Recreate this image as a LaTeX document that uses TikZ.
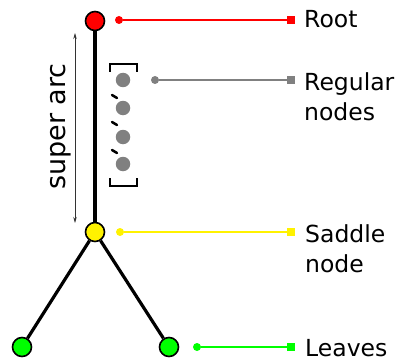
\documentclass[tikz,border=0pt]{standalone}
\usepackage{fontspec}
\setmainfont{DejaVu Sans}
\usetikzlibrary{arrows.meta}
\begin{document}
\begin{tikzpicture}[x=1pt,y=-1pt,
  treenode/.style={circle,draw=black,line width=1.6pt,minimum size=19pt,inner sep=0pt},
  edge/.style={line width=3.2pt},
  legend/.style={line width=2pt},
  ldot/.style={circle,inner sep=0pt,minimum size=8pt},
  lsq/.style={rectangle,inner sep=0pt,minimum size=8pt},
  regnode/.style={circle,fill=gray,inner sep=0pt,minimum size=14.5pt},
  bracket/.style={line width=2.5pt},
  tick/.style={line width=2.5pt,line cap=round},
  lab/.style={font=\fontsize{23.5}{30}\selectfont,inner sep=0pt,align=left}]
\useasboundingbox (0,0) rectangle (399,361);
% tree
\node[treenode,fill=red] (root) at (95,21) {};
\node[treenode,fill=yellow] (saddle) at (95,232) {};
\node[treenode,fill=green] (leafL) at (22,347) {};
\node[treenode,fill=green] (leafR) at (169,347) {};
\draw[edge] (root) -- (saddle);
\draw[edge] (saddle) -- (leafL);
\draw[edge] (saddle) -- (leafR);
% regular nodes
\node[regnode] (r1) at (123,80) {};
\node[regnode] (r2) at (123,108) {};
\node[regnode] (r3) at (123,137) {};
\node[regnode] (r4) at (123,164) {};
\draw[bracket] (110,72) -- (110,64) -- (137,64) -- (137,72);
\draw[bracket] (110,178) -- (110,186) -- (137,186) -- (137,178);
\draw[tick] (112,95) -- (117,98);
\draw[tick] (112,122) -- (117,125);
\draw[tick] (112,150) -- (117,153);
% super arc
\coordinate (sa1) at (75,33);
\coordinate (sa2) at (75,223);
\draw[{Stealth[length=6pt,width=3.5pt]}-{Stealth[length=6pt,width=3.5pt]},line width=0.7pt,black!80] (sa1) -- (sa2);
\node[rotate=90,anchor=base,font=\fontsize{27}{32}\selectfont,inner sep=0pt] (salab) at (65,126.5) {super arc};
% legend
\node[ldot,fill=red] (rd) at (119,20) {};
\node[lsq,fill=red] (rs) at (291,20) {};
\draw[legend,red] (rd) -- (rs);
\node[lab,anchor=base west] (rootlab) at (304,28) {Root};
\node[ldot,fill=gray] (gd) at (155,80) {};
\node[lsq,fill=gray] (gs) at (291,80) {};
\draw[legend,gray] (gd) -- (gs);
\node[lab,anchor=north west] (reglab) at (304,72.5) {Regular\\nodes};
\node[ldot,fill=yellow] (yd) at (120,232) {};
\node[lsq,fill=yellow] (ys) at (291,232) {};
\draw[legend,yellow] (yd) -- (ys);
\node[lab,anchor=north west] (sadlab) at (305,224.5) {Saddle\\node};
\node[ldot,fill=green] (ed) at (197,347) {};
\node[lsq,fill=green] (es) at (291,347) {};
\draw[legend,green] (ed) -- (es);
\node[lab,anchor=base west] (leaflab) at (305,356) {Leaves};
\end{tikzpicture}
\end{document}
